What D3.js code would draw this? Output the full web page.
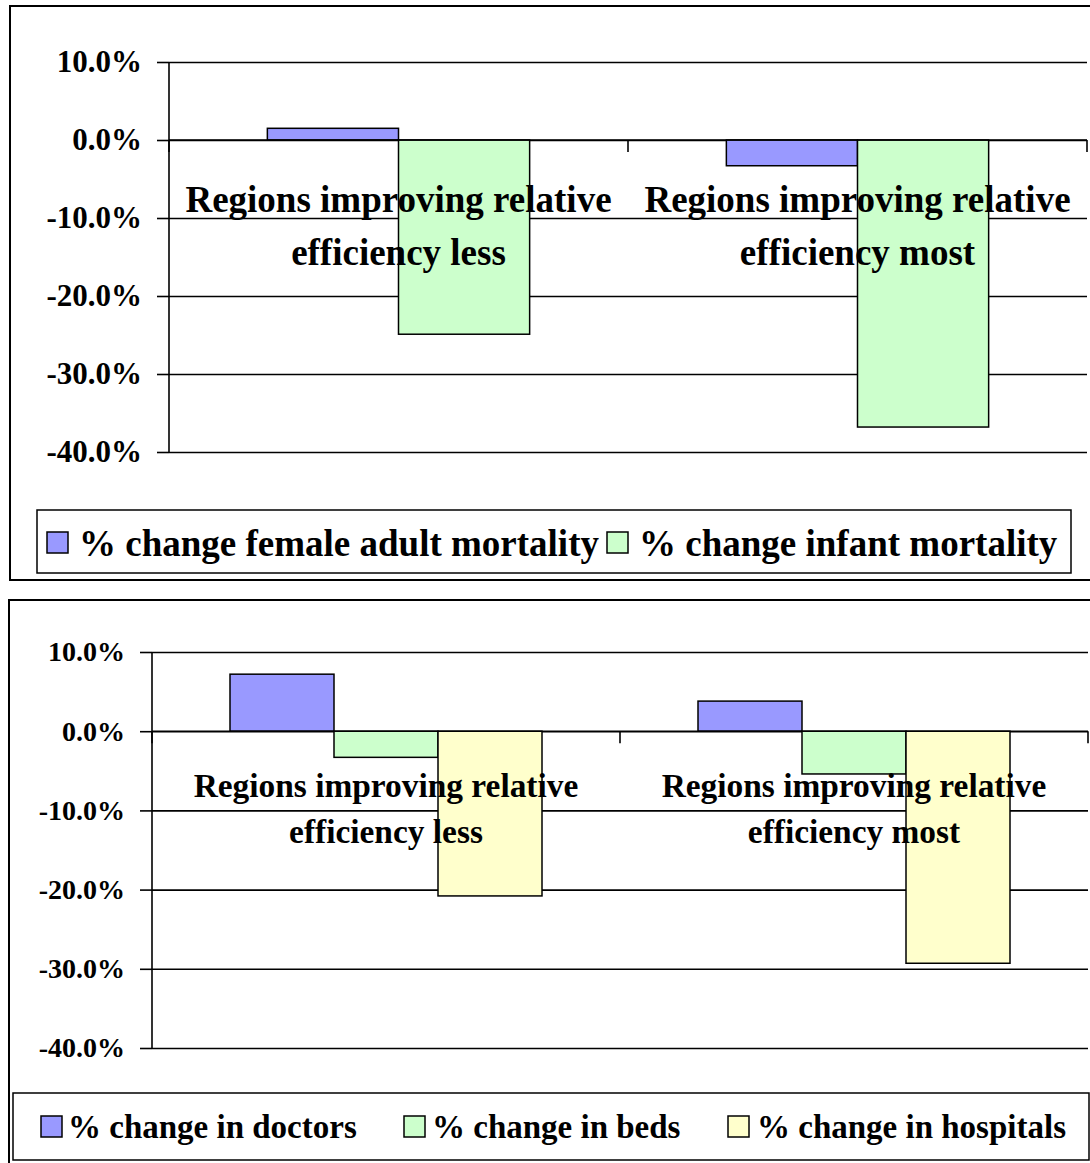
<!DOCTYPE html>
<html>
<head>
<meta charset="utf-8">
<script src="https://cdn.jsdelivr.net/npm/d3@7"></script>
<style>
  body { margin: 0; background: #fff; }
  svg text { font-family: "Liberation Serif", "Times New Roman", serif; font-weight: bold; }
</style>
</head>
<body>
<svg id="chart" width="1090" height="1163"></svg>
<script>
// category labels (two lines each)
var categoryLines = [
    ["Regions improving relative", "efficiency less"],
    ["Regions improving relative", "efficiency most"]
];
var categories = ["less", "most"];
var tickValues = [10, 0, -10, -20, -30, -40];

// top chart: mortality
var topSeries = ["% change female adult mortality", "% change infant mortality"];
var femaleAdultMortality = [1.5, -3.3];
var infantMortality = [-24.9, -36.8];

// bottom chart: resources
var bottomSeries = ["% change in doctors", "% change in beds", "% change in hospitals"];
var doctors = [7.2, 3.8];
var beds = [-3.3, -5.4];
var hospitals = [-20.8, -29.3];

var colors = ["#9999ff", "#ccffcc", "#ffffcc"];

var svg = d3.select("#chart");

// Draw one excel-like clustered column chart
function drawChart(cfg) {
    var g = svg.append("g");

    // outer frame
    g.append("rect")
        .attr("x", cfg.frame[0]).attr("y", cfg.frame[1])
        .attr("width", cfg.frame[2]).attr("height", cfg.frame[3])
        .attr("fill", "none").attr("stroke", "#000").attr("stroke-width", 2);

    var y = d3.scaleLinear().domain([-40, 10]).range([cfg.bottom, cfg.top]);
    var x = d3.scaleBand().domain(categories).range([cfg.left, cfg.right]);

    // Excel gap width 150%
    var n = cfg.series.length;
    var barW = x.bandwidth() / (n + 1.5);
    var xs = d3.scaleBand().domain(d3.range(n))
        .range([barW * 0.75, barW * 0.75 + n * barW]);

    // gridlines
    g.append("g")
        .attr("transform", "translate(" + cfg.left + ",0)")
        .call(d3.axisLeft(y).tickValues(tickValues)
            .tickSize(-(cfg.right - cfg.left)).tickFormat(""))
        .call(function(a) {
            a.select(".domain").remove();
            a.selectAll(".tick line").attr("stroke", "#000").attr("stroke-width", 1.6);
        });

    // small tick marks + labels left of the axis
    g.append("g")
        .attr("transform", "translate(" + cfg.left + ",0)")
        .call(d3.axisLeft(y).tickValues(tickValues).tickSize(12).tickPadding(15)
            .tickFormat(function(d) { return d.toFixed(1) + "%"; }))
        .attr("font-family", "Liberation Serif")
        .call(function(a) {
            a.select(".domain").attr("stroke", "#000").attr("stroke-width", 1.6)
                .attr("d", "M0," + cfg.top + "V" + cfg.bottom);
            a.selectAll(".tick line").attr("stroke", "#000").attr("stroke-width", 1.6);
            a.selectAll(".tick text")
                .attr("fill", "#000")
                .style("font-family", "'Liberation Serif', serif")
                .style("font-size", cfg.tickFont + "px")
                .attr("dy", "0.32em");
        });

    // category tick marks at the zero line
    var catEdges = categories.map(function(c) { return x(c); }).concat([cfg.right]);
    g.selectAll(".cattick").data(catEdges).enter().append("line")
        .attr("x1", function(d) { return d; }).attr("x2", function(d) { return d; })
        .attr("y1", y(0)).attr("y2", y(0) + 12)
        .attr("stroke", "#000").attr("stroke-width", 1.6);

    // bars
    cfg.series.forEach(function(s, si) {
        g.selectAll(".bar" + si).data(cfg.values[si]).enter().append("rect")
            .attr("x", function(d, i) { return x(categories[i]) + xs(si); })
            .attr("width", xs.bandwidth())
            .attr("y", function(d) { return y(Math.max(0, d)); })
            .attr("height", function(d) { return Math.abs(y(d) - y(0)); })
            .attr("fill", colors[si])
            .attr("stroke", "#000").attr("stroke-width", 1.5);
    });

    // zero line redrawn on top
    g.append("line")
        .attr("x1", cfg.left).attr("x2", cfg.right)
        .attr("y1", y(0)).attr("y2", y(0))
        .attr("stroke", "#000").attr("stroke-width", 1.6);

    // category labels, drawn over the bars
    categories.forEach(function(c, i) {
        var t = g.append("text")
            .attr("text-anchor", "middle")
            .style("font-size", cfg.catFont + "px");
        categoryLines[i].forEach(function(line, li) {
            t.append("tspan")
                .attr("x", x(c) + x.bandwidth() / 2)
                .attr("y", y(0) + cfg.labelOffset + li * cfg.lineHeight)
                .text(line);
        });
    });

    // legend
    var L = cfg.legend;
    g.append("rect")
        .attr("x", L.box[0]).attr("y", L.box[1])
        .attr("width", L.box[2]).attr("height", L.box[3])
        .attr("fill", "#fff").attr("stroke", "#000").attr("stroke-width", 1.5);
    cfg.series.forEach(function(s, si) {
        g.append("rect")
            .attr("x", L.swatchX[si]).attr("y", L.swatchY)
            .attr("width", L.swatch).attr("height", L.swatch)
            .attr("fill", colors[si]).attr("stroke", "#000").attr("stroke-width", 1.5);
        g.append("text")
            .attr("x", L.textX[si]).attr("y", L.baseline)
            .style("font-size", L.font + "px")
            .text(s);
    });
}

drawChart({
    frame: [10, 6, 1100, 574],
    left: 169, right: 1087, top: 62, bottom: 452,
    series: topSeries,
    values: [femaleAdultMortality, infantMortality],
    tickFont: 31, catFont: 37, labelOffset: 72, lineHeight: 53,
    legend: {
        box: [37, 510, 1034, 63],
        swatch: 21, swatchY: 532, swatchX: [47, 607],
        textX: [79, 639], baseline: 556, font: 37
    }
});

drawChart({
    frame: [9, 600, 1100, 600],
    left: 152, right: 1088, top: 652, bottom: 1048,
    series: bottomSeries,
    values: [doctors, beds, hospitals],
    tickFont: 28, catFont: 33.4, labelOffset: 66, lineHeight: 46,
    legend: {
        box: [13, 1093, 1076, 67],
        swatch: 21, swatchY: 1116, swatchX: [41, 404, 728],
        textX: [68, 432, 757], baseline: 1138, font: 33
    }
});
</script>
</body>
</html>
